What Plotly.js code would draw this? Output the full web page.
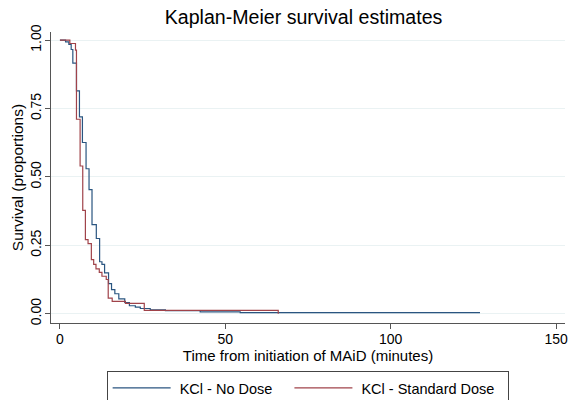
<!DOCTYPE html>
<html>
<head>
<meta charset="utf-8">
<script src="https://cdn.plot.ly/plotly-3.0.1.min.js"></script>
<style>html,body{margin:0;padding:0;background:#fff;}#chart{width:570px;height:400px;}</style>
</head>
<body>
<div id="chart"></div>
<script>
// Kaplan-Meier step points (time in minutes, survival after the step)
const noDoseTime = [0, 1.7, 2.7, 3.4, 3.9, 5.0, 5.9, 6.8, 7.9, 8.8, 9.7, 11.0, 12.0, 12.7, 13.5, 14.7, 15.6, 16.6, 17.8, 19.6, 21.0, 22.8, 24.3, 27.3, 31.9, 42.4, 54.5, 127];
const noDoseSurv = [1.0, 0.994, 0.985, 0.966, 0.916, 0.815, 0.72, 0.626, 0.53, 0.454, 0.326, 0.275, 0.19, 0.18, 0.149, 0.11, 0.088, 0.073, 0.054, 0.041, 0.029, 0.024, 0.019, 0.014, 0.011, 0.007, 0.004, 0.004];
const stdDoseTime = [0, 3.0, 4.7, 5.0, 6.1, 6.9, 7.7, 8.5, 9.5, 10.2, 10.9, 11.9, 12.7, 14.0, 14.6, 15.8, 19.8, 25.5, 66];
const stdDoseSurv = [1.0, 0.988, 0.964, 0.711, 0.54, 0.378, 0.271, 0.256, 0.198, 0.18, 0.164, 0.151, 0.137, 0.125, 0.057, 0.045, 0.038, 0.012, 0.0];
const seriesNames = ['KCl - No Dose', 'KCl - Standard Dose'];
const xTicks = [0, 50, 100, 150];
const yTicks = [0, 0.25, 0.5, 0.75, 1];
const yTickText = ['0.00', '0.25', '0.50', '0.75', '1.00'];

const font = 'Liberation Sans, Arial, Helvetica, sans-serif';
const NB = '\u00a0';
const traces = [
  {x: noDoseTime, y: noDoseSurv, name: NB + seriesNames[0] + NB.repeat(3), mode: 'lines', line: {shape: 'hv', color: '#2a5580', width: 1.2}},
  {x: stdDoseTime, y: stdDoseSurv, name: NB + seriesNames[1] + NB.repeat(2), mode: 'lines', line: {shape: 'hv', color: '#a0434a', width: 1.2}}
];
const layout = {
  width: 570, height: 400,
  paper_bgcolor: '#ffffff', plot_bgcolor: '#ffffff',
  margin: {l: 51, r: 5, t: 32, b: 77},
  font: {family: font, size: 14, color: '#000'},
  title: {text: 'Kaplan-Meier survival estimates', font: {family: font, size: 19.6, color: '#000'}, xref: 'container', x: 0.5325, xanchor: 'center', y: 0.958, yanchor: 'middle'},
  xaxis: {
    range: [-2.7, 152.7], tickvals: xTicks, ticks: 'outside', ticklen: 5, tickcolor: '#555', tickwidth: 1,
    showline: true, linecolor: '#555', linewidth: 1, showgrid: false, zeroline: false,
    tickfont: {family: font, size: 14}, ticklabelstandoff: -2,
    title: {text: 'Time from initiation of MAiD (minutes)', font: {family: font, size: 15}, standoff: 0}
  },
  yaxis: {
    range: [-0.034, 1.03], tickvals: yTicks, ticktext: yTickText, tickangle: -90,
    ticks: 'outside', ticklen: 5, tickcolor: '#555', tickwidth: 1,
    showline: true, linecolor: '#555', linewidth: 1, showgrid: true, gridcolor: '#eaf2f3', gridwidth: 1, zeroline: false,
    tickfont: {family: font, size: 14}, ticklabelstandoff: -2,
    title: {text: 'Survival (proportions)', font: {family: font, size: 15.5}, standoff: 0}
  },
  showlegend: true,
  legend: {orientation: 'h', x: 0.4993, xanchor: 'center', yref: 'container', y: 0.0725, yanchor: 'top',
    bordercolor: '#444', borderwidth: 1, bgcolor: '#fff', itemwidth: 58,
    font: {family: font, size: 14.5}, traceorder: 'normal'}
};
Plotly.newPlot('chart', traces, layout, {staticPlot: true, displayModeBar: false});
</script>
</body>
</html>
